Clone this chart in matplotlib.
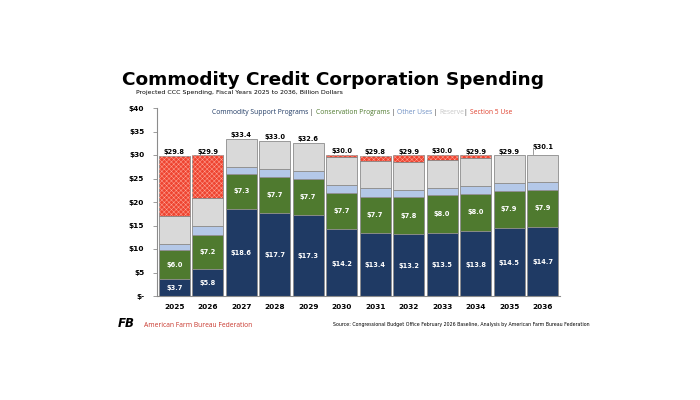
import matplotlib.pyplot as plt
import numpy as np

years = ["2025", "2026", "2027", "2028", "2029", "2030",
         "2031", "2032", "2033", "2034", "2035", "2036"]
commodity = [3.7, 5.8, 18.6, 17.7, 17.3, 14.2, 13.4, 13.2, 13.5, 13.8, 14.5, 14.7]
conservation = [6.0, 7.2, 7.3, 7.7, 7.7, 7.7, 7.7, 7.8, 8.0, 8.0, 7.9, 7.9]
other_uses = [1.3, 1.9, 1.5, 1.6, 1.6, 1.7, 1.8, 1.5, 1.5, 1.6, 1.7, 1.6]
reserve = [6.1, 6.0, 6.0, 6.0, 6.0, 6.0, 5.9, 6.1, 6.0, 5.9, 5.8, 5.9]
section5 = [12.7, 9.0, 0.0, 0.0, 0.0, 0.4, 1.0, 1.3, 1.0, 0.6, 0.0, 0.0]
totals = [29.8, 29.9, 33.4, 33.0, 32.6, 30.0, 29.8, 29.9, 30.0, 29.9, 29.9, 30.1]

NAVY = "#1F3A64"
GREEN = "#4F7A2F"
LIGHTBLUE = "#B4C8E8"
GREY = "#D9D9D9"
RED = "#EE4430"
EDGE = "#8C8C8C"

fig = plt.figure(figsize=(7, 4), dpi=100)
ax = fig.add_axes([0.224, 0.26, 0.576, 0.47])

x = np.arange(len(years))
w = 0.92
bottom = np.zeros(len(years))
segments = [(commodity, NAVY), (conservation, GREEN), (other_uses, LIGHTBLUE), (reserve, GREY)]
for vals, col in segments:
    ax.bar(x, vals, w, bottom=bottom, color=col, edgecolor=EDGE, linewidth=0.6, zorder=2)
    bottom += np.array(vals)

s5 = np.array(section5)
mask = s5 > 0
ax.bar(x[mask], s5[mask], w, bottom=bottom[mask], color=RED, edgecolor=EDGE, linewidth=0.6, zorder=2)
plt.rcParams["hatch.linewidth"] = 0.35
ax.bar(x[mask], s5[mask], w, bottom=bottom[mask], color="none", edgecolor="#FFA496",
       hatch="xxxxxxx", linewidth=0, zorder=3)

# segment labels
for i in range(len(years)):
    ax.text(x[i], commodity[i] / 2 - 0.2, f"${commodity[i]:.1f}", ha="center", va="center",
            color="white", fontsize=4.8, fontweight="bold", zorder=4)
    ax.text(x[i], commodity[i] + conservation[i] / 2, f"${conservation[i]:.1f}", ha="center",
            va="center", color="white", fontsize=4.8, fontweight="bold", zorder=4)
    lift = 0.9 if i == len(years) - 1 else 0.2
    ax.text(x[i], totals[i] + lift, f"${totals[i]:.1f}", ha="center", va="bottom",
            color="black", fontsize=4.8, fontweight="bold", zorder=4)

# small leader line on the last total label
ax.plot([10.7, 10.7, 10.76], [30.3, 31.4, 31.4], color=EDGE, lw=0.6, zorder=4)

ax.set_xlim(-0.52, len(years) - 0.48)
ax.set_ylim(0, 40)
ax.set_yticks(range(0, 41, 5))
ax.set_yticklabels(["$-"] + [f"${v}" for v in range(5, 41, 5)])
ax.set_xticks(x)
ax.set_xticklabels(years)
for lab in ax.get_xticklabels() + ax.get_yticklabels():
    lab.set_fontweight("bold")
    lab.set_fontsize(5.3)
ax.tick_params(axis="x", length=0, pad=6)
ax.tick_params(axis="y", length=3, width=0.6, color=EDGE, pad=6)
for side in ["top", "right"]:
    ax.spines[side].set_visible(False)
for side in ["left", "bottom"]:
    ax.spines[side].set_color(EDGE)
    ax.spines[side].set_linewidth(0.8)

# legend as coloured text pieces
pieces = [("Commodity Support Programs", NAVY), (" | ", "#404040"),
          ("Conservation Programs", GREEN), (" | ", "#404040"),
          ("Other Uses", "#6F90C4"), (" | ", "#404040"),
          ("Reserve", "#C8C8C8"), ("| ", "#404040"),
          ("Section 5 Use", "#E0402D")]
t = fig.text(0.303, 0.711, pieces[0][0], color=pieces[0][1], fontsize=4.9,
             family="Open Sans", va="bottom")
for txt, col in pieces[1:]:
    t = ax.annotate(txt, xy=(1, 0), xycoords=t, color=col, fontsize=4.9,
                    family="Open Sans", va="bottom")

fig.text(0.175, 0.787, "Commodity Credit Corporation Spending", fontsize=13.3,
         fontweight="heavy", ha="left", va="baseline")
fig.text(0.194, 0.765, "Projected CCC Spending, Fiscal Years 2025 to 2036, Billion Dollars",
         fontsize=4.5, ha="left", va="baseline")

# footer
fig.text(0.168, 0.183, "FB", fontsize=8.5, fontweight="heavy", style="italic",
         color="black", ha="left", va="baseline")
fig.text(0.206, 0.183, "American Farm Bureau Federation", fontsize=4.9, color="#C8372D",
         family="Open Sans", ha="left", va="baseline")
fig.text(0.843, 0.186, "Source: Congressional Budget Office February 2026 Baseline, Analysis by American Farm Bureau Federation",
         fontsize=3.45, ha="right", va="baseline")

fig.savefig("out.png", dpi=100, facecolor="white")
